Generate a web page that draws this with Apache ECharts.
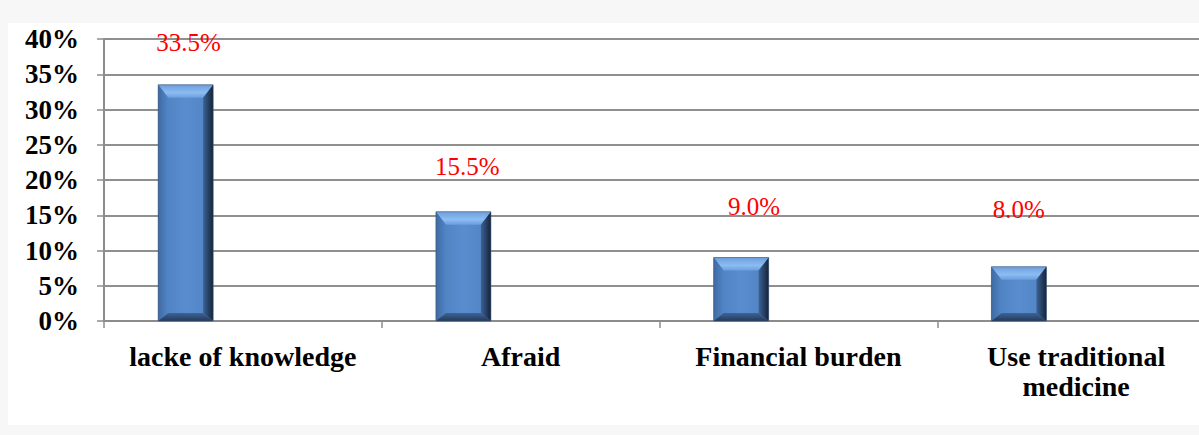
<!DOCTYPE html>
<html>
<head>
<meta charset="utf-8">
<script src="https://cdn.jsdelivr.net/npm/echarts@6/dist/echarts.min.js"></script>
<style>
html,body{margin:0;padding:0;background:#f7f7f7;}
#chart{width:1199px;height:435px;}
</style>
</head>
<body>
<div id="chart"></div>
<script>
// ---- data ----
const categories = ['lacke of knowledge', 'Afraid', 'Financial burden', 'Use traditional\nmedicine'];
const values = [33.5, 15.5, 9.0, 7.7];
const labelTexts = ['33.5%', '15.5%', '9.0%', '8.0%'];
const yTicks = { min: 0, max: 40, interval: 5 };

// ---- label placement (style only) ----
const labelDx = [3, 4, 13, 0];
const labelDy = [-42, -45, -51, -57];

const SERIF = 'Liberation Serif';

const chart = echarts.init(document.getElementById('chart'), null, { renderer: 'svg' });

function renderItem(params, api) {
  const idx = api.value(0);
  const v = api.value(1);
  const top = api.coord([idx, v]);
  const base = api.coord([idx, 0]);
  const band = api.size([1, 0])[0];
  const w = band * 0.198;
  const cx = base[0] - band * 0.206;
  const x0 = cx - w / 2, x1 = cx + w / 2, y0 = top[1], y1 = base[1];
  const h = y1 - y0;
  const bt = Math.min(13, h / 3), bs = 10, bb = Math.min(8, h / 4);
  const children = [
    { type: 'rect', shape: { x: x0, y: y0, width: w, height: h },
      style: { fill: new echarts.graphic.LinearGradient(0, 0, 1, 0, [
        { offset: 0, color: '#4c7fbf' }, { offset: 0.5, color: '#5a8dcf' }, { offset: 1, color: '#4f82c2' }]) } },
    { type: 'polygon', shape: { points: [[x0, y0], [x1, y0], [x1 - bs, y0 + bt], [x0 + bs, y0 + bt]] },
      style: { fill: new echarts.graphic.LinearGradient(0, 0, 0, 1, [
        { offset: 0, color: '#6d9fdc' }, { offset: 0.6, color: '#8cbcf2' }, { offset: 1, color: '#6a9edd' }]) } },
    { type: 'polygon', shape: { points: [[x0, y0], [x0 + bs, y0 + bt], [x0 + bs, y1 - bb], [x0, y1]] },
      style: { fill: new echarts.graphic.LinearGradient(0, 0, 1, 0, [
        { offset: 0, color: '#3f6aa3' }, { offset: 1, color: '#5185c6' }]) } },
    { type: 'polygon', shape: { points: [[x1, y0], [x1, y1], [x1 - bs, y1 - bb], [x1 - bs, y0 + bt]] },
      style: { fill: new echarts.graphic.LinearGradient(0, 0, 1, 0, [
        { offset: 0, color: '#3b6295' }, { offset: 1, color: '#15233a' }]) } },
    { type: 'polygon', shape: { points: [[x0, y1], [x0 + bs, y1 - bb], [x1 - bs, y1 - bb], [x1, y1]] },
      style: { fill: new echarts.graphic.LinearGradient(0, 0, 0, 1, [
        { offset: 0, color: '#3d6495' }, { offset: 1, color: '#24395a' }]) } },
    { type: 'rect', shape: { x: x0, y: y0, width: w, height: h },
      style: { fill: 'none', stroke: 'rgba(60,80,110,0.55)', lineWidth: 1 } },
    { type: 'text', style: {
        text: labelTexts[idx], x: cx + labelDx[idx], y: y0 + labelDy[idx],
        align: 'center', verticalAlign: 'middle', fill: '#ff0000',
        fontSize: 25, fontFamily: SERIF } }
  ];
  return { type: 'group', children };
}

chart.setOption({
  backgroundColor: '#f7f7f7',
  animation: false,
  graphic: [{ type: 'rect', z: -10, shape: { x: 8, y: 23, width: 1191, height: 402 }, style: { fill: '#ffffff' } }],
  grid: { left: 104, top: 39, bottom: 114, right: -16, containLabel: false, outerBoundsMode: 'none' },
  xAxis: {
    type: 'category',
    data: categories,
    boundaryGap: true,
    axisLine: { show: true, lineStyle: { color: '#8c8c8c', width: 2 } },
    axisTick: { show: true, length: 7, lineStyle: { color: '#8c8c8c', width: 1.5 } },
    axisLabel: { interval: 0, margin: 20, color: '#000', fontWeight: 'bold', fontSize: 28,
      fontFamily: SERIF, lineHeight: 30, align: 'center' },
    splitLine: { show: false }
  },
  yAxis: {
    type: 'value',
    min: yTicks.min, max: yTicks.max, interval: yTicks.interval,
    axisLine: { show: true, lineStyle: { color: '#8c8c8c', width: 2 } },
    axisTick: { show: true, length: 7, lineStyle: { color: '#8c8c8c', width: 1.5 } },
    axisLabel: { formatter: '{value}%', margin: 25, color: '#000', fontWeight: 'bold', fontSize: 27, fontFamily: SERIF },
    splitLine: { show: true, lineStyle: { color: '#8f8f8f', width: 2 } }
  },
  series: [{
    type: 'custom',
    renderItem: renderItem,
    encode: { x: 0, y: 1 },
    data: values.map((v, i) => [i, v]),
    clip: false
  }]
});
</script>
</body>
</html>
